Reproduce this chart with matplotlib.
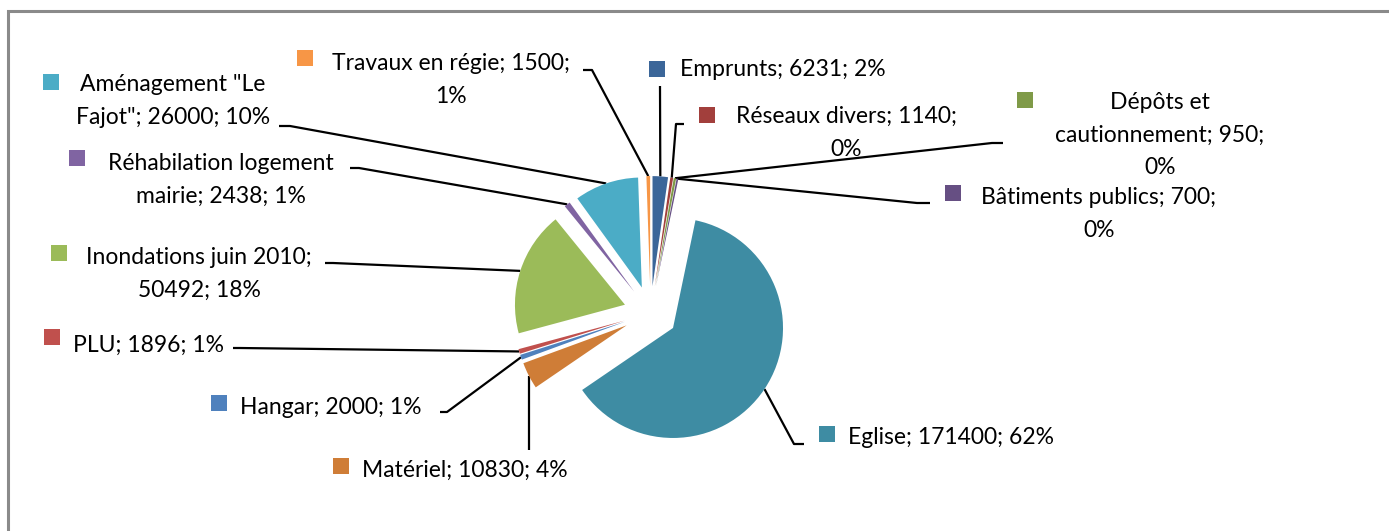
import matplotlib.pyplot as plt
import matplotlib.patches as mpatches
import numpy as np

plt.rcParams['font.family'] = ['Lato', 'DejaVu Sans']

# data, clockwise from the top
postes = ['Emprunts', 'Réseaux divers', 'Dépôts et cautionnement', 'Bâtiments publics',
          'Eglise', 'Matériel', 'Hangar', 'PLU', 'Inondations juin 2010',
          'Réhabilation logement mairie', 'Aménagement "Le Fajot"', 'Travaux en régie']
montants = [6231, 1140, 950, 700, 171400, 10830, 2000, 1896, 50492, 2438, 26000, 1500]
etiquettes = ['Emprunts; 6231; 2%', 'Réseaux divers; 1140;\n0%',
              'Dépôts et\ncautionnement; 950;\n0%', 'Bâtiments publics; 700;\n0%',
              'Eglise; 171400; 62%', 'Matériel; 10830; 4%', 'Hangar; 2000; 1%',
              'PLU; 1896; 1%', 'Inondations juin 2010;\n50492; 18%',
              'Réhabilation logement\nmairie; 2438; 1%', 'Aménagement "Le\nFajot"; 26000; 10%',
              'Travaux en régie; 1500;\n1%']
couleurs = ['#3B6699', '#A23F3C', '#7F9A48', '#664F83', '#3E8CA3', '#CF7D37',
            '#4F81BD', '#C0504D', '#9BBB59', '#8064A2', '#4BACC6', '#F79646']

W, H = 1389, 531
cx, cy, R = 650.6, 313, 110   # pie centre and radius in pixels (y down)
expl = 0.245

fig = plt.figure(figsize=(W / 100, H / 100), dpi=100)
ax = fig.add_axes([0, 0, 1, 1])
ax.set_xlim(0, W)
ax.set_ylim(H, 0)
ax.axis('off')

L = 160
pax = fig.add_axes([(cx - L) / W, (H - cy - L) / H, 2 * L / W, 2 * L / H])
wedges, _ = pax.pie(montants, colors=couleurs, startangle=90, counterclock=False,
                    explode=[expl] * len(montants), radius=1,
                    wedgeprops=dict(linewidth=0))
pax.set_xlim(-L / R, L / R)
pax.set_ylim(-L / R, L / R)
pax.axis('off')

# label layout: (text x, text y, ha, marker centre x, marker centre y, leader end, elbow)
layout = [
    (680, 70, 'left', 657, 69, (660, 86), None),
    (846, 133, 'center', 707, 115, (684, 124), (676, 124)),
    (1160, 135, 'center', 1025, 100, (1003, 143), (992, 143)),
    (1099, 214, 'center', 953, 193, (930, 203), (917, 203)),
    (848, 438, 'left', 827, 434, (804, 444), (794, 444)),
    (362, 470, 'left', 341, 466, None, None),
    (240, 407, 'left', 219, 403, (440, 412), (447, 412)),
    (73, 345, 'left', 52, 337, (233, 348), (240, 348)),
    (199, 274, 'center', 59, 253, (325, 263), (333, 263)),
    (221, 180, 'center', 77, 158, (350, 168), (359, 168)),
    (173, 101, 'center', 51, 82, (279, 126), (290, 126)),
    (451, 80, 'center', 305, 58, (583, 70), (592, 70)),
]

for w, lab, col, (tx, ty, ha, mx, my, end, elbow) in zip(wedges, etiquettes, couleurs, layout):
    ang = np.deg2rad((w.theta1 + w.theta2) / 2)
    wx, wy = w.center
    axp = cx + R * (wx + np.cos(ang))
    ayp = cy - R * (wy + np.sin(ang))
    if end is None:
        xs, ys = [axp, axp], [ayp, 450]
    elif elbow is None:
        xs, ys = [end[0], axp], [end[1], ayp]
    else:
        xs, ys = [end[0], elbow[0], axp], [end[1], elbow[1], ayp]
    ax.plot(xs, ys, color='black', lw=1.6, solid_capstyle='butt')
    ax.text(tx, ty, lab, ha=ha, va='center', multialignment='center',
            fontsize=16.5, color='black', linespacing=1.7)
    ax.add_patch(mpatches.Rectangle((mx - 8, my - 8), 16, 16, color=col, lw=0))

# chart border
ax.plot([8, 8, W], [H, 11, 11], color='#8A8A8A', lw=2.2, solid_joinstyle='miter')

fig.savefig('out.png', dpi=100)
